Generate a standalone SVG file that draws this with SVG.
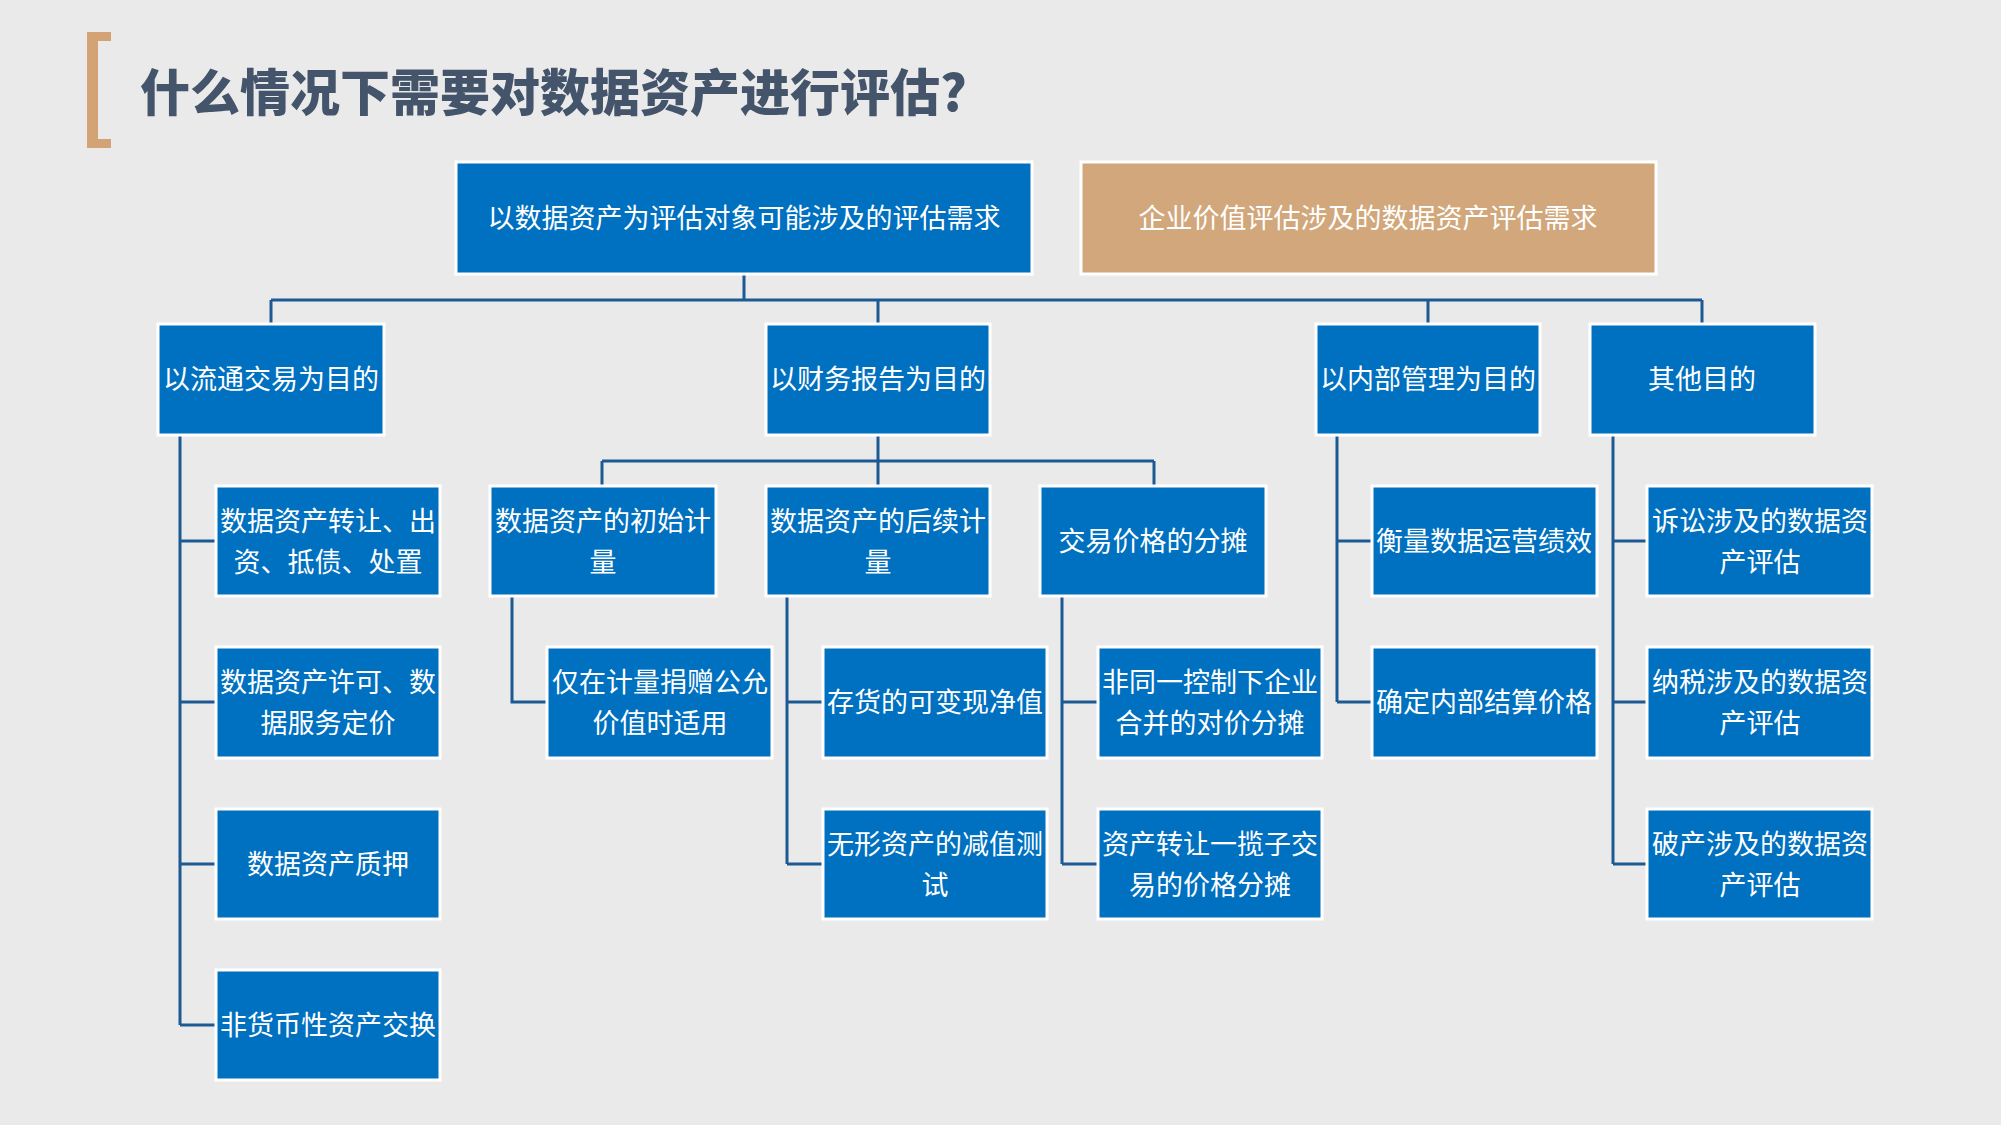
<svg xmlns="http://www.w3.org/2000/svg" width="2001" height="1125" viewBox="0 0 2001 1125">
<defs>
<style>
.bg{fill:#EAEAEA}
.b{fill:#0070C0;stroke:#FFFFFF;stroke-width:3}
.t{fill:#D1A77B;stroke:#FFFFFF;stroke-width:3}
.tx{font-family:"Noto Sans CJK SC","Noto Sans",sans-serif;font-size:27px;fill:#FFFFFF;text-anchor:middle;dominant-baseline:central}
.ln{fill:none;stroke:#1D5A94;stroke-width:3}
.title{font-family:"Noto Sans CJK SC","Noto Sans",sans-serif;font-size:50px;font-weight:900;fill:#44546A;dominant-baseline:central}
</style>
</defs>
<rect class="bg" x="0" y="0" width="2001" height="1125"/>
<g id="title">
<path d="M87 32 H111 V41 H98 V139 H111 V148 H87 Z" fill="#D4A375"/>
<text class="title" x="140" y="89">什么情况下需要对数据资产进行评估?</text>
</g>
<g id="connectors">
<path class="ln" d="M744 274 V300 M271 300 H1702 M271 300 V324 M878 300 V324 M1428 300 V324 M1702 300 V324"/>
<path class="ln" d="M180 435 V1025 M180 541 H216 M180 702 H216 M180 864 H216 M180 1025 H216"/>
<path class="ln" d="M878 435 V461 M602 461 H1154 M602 461 V486 M878 461 V486 M1154 461 V486"/>
<path class="ln" d="M512 596 V702 H547"/>
<path class="ln" d="M787 596 V864 M787 702 H823 M787 864 H823"/>
<path class="ln" d="M1062 596 V864 M1062 702 H1098 M1062 864 H1098"/>
<path class="ln" d="M1337 435 V702 M1337 541 H1372 M1337 702 H1372"/>
<path class="ln" d="M1613 435 V864 M1613 541 H1647 M1613 702 H1647 M1613 864 H1647"/>
</g>
<g id="n-top1"><rect class="b" x="456" y="162" width="576" height="112"/><text class="tx" x="744" y="216">以数据资产为评估对象可能涉及的评估需求</text></g>
<g id="n-top2"><rect class="t" x="1081" y="162" width="575" height="112"/><text class="tx" x="1368" y="216">企业价值评估涉及的数据资产评估需求</text></g>
<g id="n-l1"><rect class="b" x="158" y="324" width="226" height="111"/><text class="tx" x="271" y="377">以流通交易为目的</text></g>
<g id="n-l2"><rect class="b" x="766" y="324" width="224" height="111"/><text class="tx" x="878" y="377">以财务报告为目的</text></g>
<g id="n-l3"><rect class="b" x="1316" y="324" width="224" height="111"/><text class="tx" x="1428" y="377">以内部管理为目的</text></g>
<g id="n-l4"><rect class="b" x="1590" y="324" width="225" height="111"/><text class="tx" x="1702" y="377">其他目的</text></g>
<g id="n-a1"><rect class="b" x="216" y="486" width="224" height="110"/><text class="tx" x="328" y="519">数据资产转让、出</text><text class="tx" x="328" y="560">资、抵债、处置</text></g>
<g id="n-a2"><rect class="b" x="216" y="647" width="224" height="111"/><text class="tx" x="328" y="680">数据资产许可、数</text><text class="tx" x="328" y="721">据服务定价</text></g>
<g id="n-a3"><rect class="b" x="216" y="809" width="224" height="110"/><text class="tx" x="328" y="862">数据资产质押</text></g>
<g id="n-a4"><rect class="b" x="216" y="970" width="224" height="110"/><text class="tx" x="328" y="1023">非货币性资产交换</text></g>
<g id="n-b1"><rect class="b" x="490" y="486" width="226" height="110"/><text class="tx" x="603" y="519">数据资产的初始计</text><text class="tx" x="603" y="560">量</text></g>
<g id="n-b2"><rect class="b" x="766" y="486" width="224" height="110"/><text class="tx" x="878" y="519">数据资产的后续计</text><text class="tx" x="878" y="560">量</text></g>
<g id="n-b3"><rect class="b" x="1040" y="486" width="226" height="110"/><text class="tx" x="1153" y="539">交易价格的分摊</text></g>
<g id="n-c1"><rect class="b" x="547" y="647" width="225" height="111"/><text class="tx" x="660" y="680">仅在计量捐赠公允</text><text class="tx" x="660" y="721">价值时适用</text></g>
<g id="n-c2"><rect class="b" x="823" y="647" width="224" height="111"/><text class="tx" x="935" y="700">存货的可变现净值</text></g>
<g id="n-c3"><rect class="b" x="823" y="809" width="224" height="110"/><text class="tx" x="935" y="842">无形资产的减值测</text><text class="tx" x="935" y="883">试</text></g>
<g id="n-c4"><rect class="b" x="1098" y="647" width="224" height="111"/><text class="tx" x="1210" y="680">非同一控制下企业</text><text class="tx" x="1210" y="721">合并的对价分摊</text></g>
<g id="n-c5"><rect class="b" x="1098" y="809" width="224" height="110"/><text class="tx" x="1210" y="842">资产转让一揽子交</text><text class="tx" x="1210" y="883">易的价格分摊</text></g>
<g id="n-d1"><rect class="b" x="1372" y="486" width="225" height="110"/><text class="tx" x="1484" y="539">衡量数据运营绩效</text></g>
<g id="n-d2"><rect class="b" x="1372" y="647" width="225" height="111"/><text class="tx" x="1484" y="700">确定内部结算价格</text></g>
<g id="n-e1"><rect class="b" x="1647" y="486" width="225" height="110"/><text class="tx" x="1760" y="519">诉讼涉及的数据资</text><text class="tx" x="1760" y="560">产评估</text></g>
<g id="n-e2"><rect class="b" x="1647" y="647" width="225" height="111"/><text class="tx" x="1760" y="680">纳税涉及的数据资</text><text class="tx" x="1760" y="721">产评估</text></g>
<g id="n-e3"><rect class="b" x="1647" y="809" width="225" height="110"/><text class="tx" x="1760" y="842">破产涉及的数据资</text><text class="tx" x="1760" y="883">产评估</text></g>
</svg>
